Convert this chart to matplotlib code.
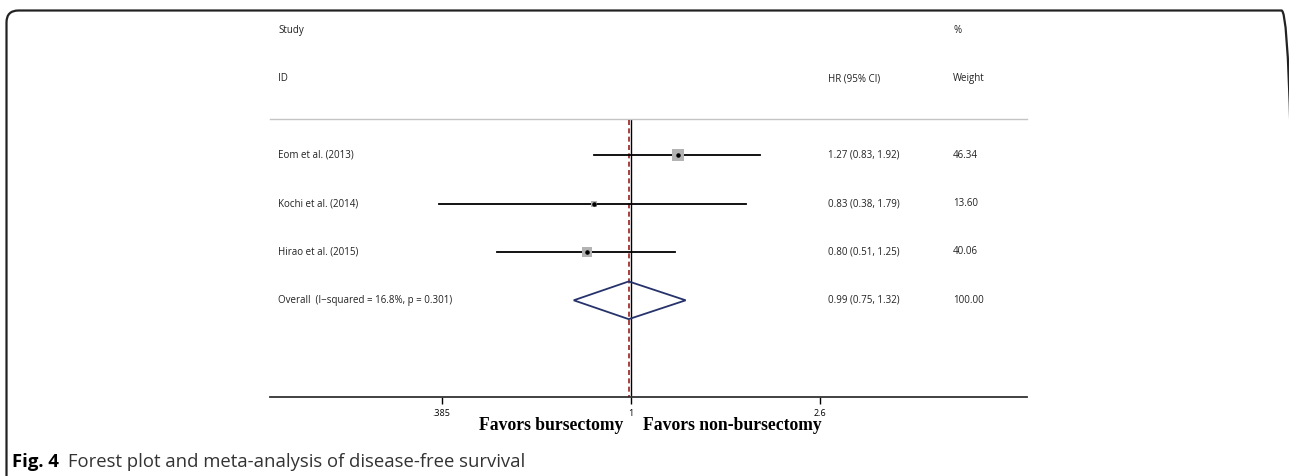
import numpy as np
import matplotlib.pyplot as plt
from matplotlib import transforms
from matplotlib.patches import FancyBboxPatch, Polygon

# study data
studies = ["Eom et al. (2013)", "Kochi et al. (2014)", "Hirao et al. (2015)"]
hr = [1.27, 0.83, 0.80]
lo = [0.83, 0.38, 0.51]
hi = [1.92, 1.79, 1.25]
weights = [46.34, 13.60, 40.06]

overall_label = "Overall  (I\u2212squared = 16.8%, p = 0.301)"
overall = (0.99, 0.75, 1.32)
overall_weight = 100.00

xticks = [0.385, 1, 2.6]
xticklabels = [".385", "1", "2.6"]

W, H = 1289, 476
fig = plt.figure(figsize=(W / 100, H / 100), dpi=100)

# pixel geometry of the plot region
px_left, px_right = 270, 1027
px_top, px_bottom = 15, 397
px_one, px_per_ln = 630.7, 198.0
ax = fig.add_axes([px_left / W, 1 - px_bottom / H,
                   (px_right - px_left) / W, (px_bottom - px_top) / H])
ax.set_xscale("log")
ax.set_xlim(np.exp((px_left - px_one) / px_per_ln), np.exp((px_right - px_one) / px_per_ln))
ax.set_ylim(5.0, -2.9)
for s in ["top", "left", "right"]:
    ax.spines[s].set_visible(False)
ax.spines["bottom"].set_linewidth(1.3)
ax.spines["bottom"].set_color("#333333")
ax.set_yticks([])
ax.set_xticks(xticks)
ax.set_xticklabels(xticklabels)
ax.minorticks_off()
ax.tick_params(axis="x", length=5, width=1, pad=3.5, labelsize=6.5)
for t in ax.get_xticklabels():
    t.set_family("Open Sans")

tf = transforms.blended_transform_factory(fig.transFigure, ax.transData)
txt = dict(family="Open Sans", fontsize=7, va="center", color="#222222")
x_lab, x_hr, x_w = 278 / W, 828 / W, 953 / W

# headers
ax.text(x_lab, -2.57, "Study", transform=tf, **txt)
ax.text(x_lab, -1.58, "ID", transform=tf, **txt)
ax.text(x_hr, -1.58, "HR (95% CI)", transform=tf, **txt)
ax.text(x_w, -2.57, "%", transform=tf, **txt)
ax.text(x_w, -1.58, "Weight", transform=tf, **txt)
ax.axhline(-0.75, color="#c4c4c4", lw=1.0, clip_on=False)

# null line and overall estimate line
ax.plot([1, 1], [-0.72, 5.0], color="black", lw=1.0, zorder=1)
ax.plot([overall[0]] * 2, [-0.72, 5.0], color="#9b2020", lw=1.2, ls=(0, (3, 2)), zorder=2)

rows = np.arange(len(studies))
for r, name, h, l, u, w in zip(rows, studies, hr, lo, hi, weights):
    ax.text(x_lab, r, name, transform=tf, **txt)
    ax.text(x_hr, r, f"{h:.2f} ({l:.2f}, {u:.2f})", transform=tf, **txt)
    ax.text(x_w, r, f"{w:.2f}", transform=tf, **txt)
    ax.plot([l, u], [r, r], color="black", lw=1.3, zorder=3)
    ax.scatter([h], [r], marker="s", s=1.36 * w, color="#b3b3b3", zorder=4, linewidths=0)
    ax.scatter([h], [r], marker="o", s=5, color="black", zorder=5)

r = len(studies)
est, ol, oh = overall
ax.text(x_lab, r, overall_label, transform=tf, **txt)
ax.text(x_hr, r, f"{est:.2f} ({ol:.2f}, {oh:.2f})", transform=tf, **txt)
ax.text(x_w, r, f"{overall_weight:.2f}", transform=tf, **txt)
dh = 0.39
ax.add_patch(Polygon([(ol, r), (est, r - dh), (oh, r), (est, r + dh)], closed=True,
                     fill=False, edgecolor="#26336b", lw=1.3, zorder=4))

# favours labels
fav = dict(family="Liberation Serif", fontweight="bold", fontsize=12.7, va="center")
fig.text(623 / W, 1 - 425 / H, "Favors bursectomy", ha="right", **fav)
fig.text(643 / W, 1 - 425 / H, "Favors non-bursectomy", ha="left", **fav)

# caption and frame
fig.text(12 / W, 1 - 462 / H, "Fig. 4", family="Open Sans", fontweight="bold",
         fontsize=13.3, va="center")
fig.text(68 / W, 1 - 462 / H, "Forest plot and meta-analysis of disease-free survival",
         family="Open Sans", fontsize=13.3, va="center", color="#333333")
frame = FancyBboxPatch((0.065, -0.3), 12.87, 4.955, boxstyle="round,pad=0,rounding_size=0.12",
                       transform=fig.dpi_scale_trans, fill=False, edgecolor="#222222", lw=1.6)
fig.patches.append(frame)

fig.savefig("out.png", dpi=100)
